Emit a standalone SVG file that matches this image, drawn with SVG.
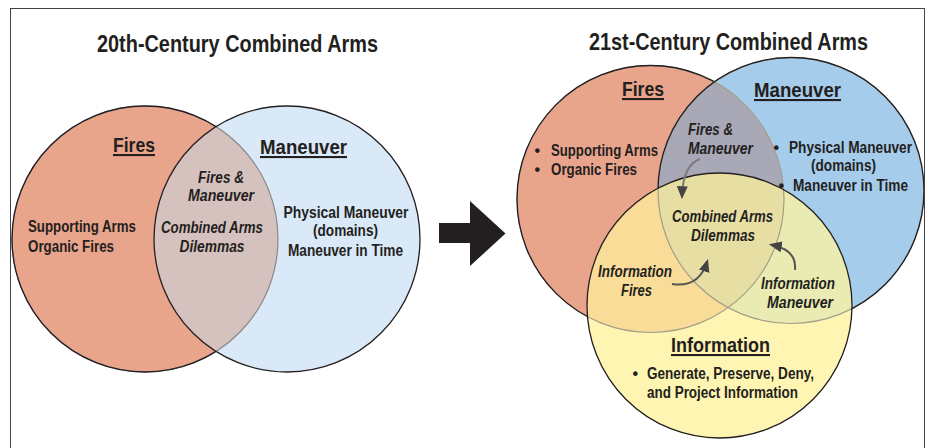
<svg xmlns="http://www.w3.org/2000/svg" width="928" height="448" viewBox="0 0 928 448">
<style>
text{font-family:"Liberation Sans Narrow","Liberation Sans",Arial,sans-serif;font-weight:bold;fill:#231f20}
.t{font-size:24px;text-anchor:middle}
.h{font-size:21px;text-anchor:middle;text-decoration:underline}
.b{font-size:16px}
.i{font-size:16px;font-style:italic;text-anchor:middle}
.m{text-anchor:middle}
.dk{fill:none;stroke:#231f20;stroke-width:1.3}
.gy{fill:none;stroke:#8a8a8a;stroke-width:1.2}
.gy2{fill:none;stroke:#a39e88;stroke-width:1.2}
.conn{fill:none;stroke:#555;stroke-width:2}
</style>
<defs>
<clipPath id="cLF"><circle cx="145" cy="239" r="133"/></clipPath>
<clipPath id="cRF"><circle cx="650.5" cy="199" r="133.5"/></clipPath>
<clipPath id="cRM"><circle cx="791" cy="190.5" r="133"/></clipPath>
<clipPath id="cRFM" clip-path="url(#cRF)"><circle cx="791" cy="190.5" r="133"/></clipPath>
<mask id="mLoutM"><rect width="928" height="448" fill="#fff"/><circle cx="287" cy="239" r="133" fill="#000"/></mask>
<mask id="mRoutI"><rect width="928" height="448" fill="#fff"/><circle cx="719.5" cy="305.5" r="132.5" fill="#000"/></mask>
<mask id="mRoutMI"><rect width="928" height="448" fill="#fff"/><circle cx="719.5" cy="305.5" r="132.5" fill="#000"/><circle cx="791" cy="190.5" r="133" fill="#000"/></mask>
<marker id="ah" viewBox="0 0 12 10" refX="9" refY="5" markerWidth="13" markerHeight="11" markerUnits="userSpaceOnUse" orient="auto"><path d="M0,0 L12,5 L0,10 Z" fill="#444"/></marker>
</defs>

<rect id="frame" x="10.5" y="8.5" width="914" height="460" fill="none" stroke="#444" stroke-width="1"/>

<!-- LEFT VENN -->
<g id="left-venn">
  <g id="left-fires">
    <circle cx="145" cy="239" r="133" fill="#e9a48c"/>
  </g>
  <g id="left-maneuver">
    <circle cx="287" cy="239" r="133" fill="#dae9f7"/>
  </g>
  <g id="left-overlap">
    <circle cx="287" cy="239" r="133" fill="#d5c1be" clip-path="url(#cLF)"/>
  </g>
  <circle class="gy" cx="145" cy="239" r="133"/>
  <circle class="dk" cx="145" cy="239" r="133" mask="url(#mLoutM)"/>
  <circle class="dk" cx="287" cy="239" r="133"/>
  <text class="t" x="237.5" y="52" textLength="281" lengthAdjust="spacingAndGlyphs">20th-Century Combined Arms</text>
  <g id="left-fires-text">
    <text class="h" x="134" y="152" textLength="42" lengthAdjust="spacingAndGlyphs">Fires</text>
    <text class="b" x="28" y="232" textLength="108" lengthAdjust="spacingAndGlyphs">Supporting Arms</text>
    <text class="b" x="28" y="252" textLength="86" lengthAdjust="spacingAndGlyphs">Organic Fires</text>
  </g>
  <g id="left-maneuver-text">
    <text class="h" x="303.5" y="154" textLength="87" lengthAdjust="spacingAndGlyphs">Maneuver</text>
    <text class="b m" x="346" y="218" textLength="125" lengthAdjust="spacingAndGlyphs">Physical Maneuver</text>
    <text class="b m" x="345.5" y="236" textLength="65" lengthAdjust="spacingAndGlyphs">(domains)</text>
    <text class="b m" x="345.5" y="256" textLength="115" lengthAdjust="spacingAndGlyphs">Maneuver in Time</text>
  </g>
  <g id="left-overlap-text">
    <text class="i" x="221" y="183" textLength="46" lengthAdjust="spacingAndGlyphs">Fires &amp;</text>
    <text class="i" x="221" y="201" textLength="66" lengthAdjust="spacingAndGlyphs">Maneuver</text>
    <text class="i" x="212" y="233" textLength="102" lengthAdjust="spacingAndGlyphs">Combined Arms</text>
    <text class="i" x="212" y="252" textLength="65" lengthAdjust="spacingAndGlyphs">Dilemmas</text>
  </g>
</g>

<!-- RIGHT VENN -->
<g id="right-venn">
  <g id="right-fires">
    <circle cx="650.5" cy="199" r="133.5" fill="#e9a48c"/>
  </g>
  <g id="right-maneuver">
    <circle cx="791" cy="190.5" r="133" fill="#a6ccec"/>
  </g>
  <g id="right-fires-maneuver">
    <circle cx="791" cy="190.5" r="133" fill="#a9a8b6" clip-path="url(#cRF)"/>
  </g>
  <g id="right-information">
    <circle cx="719.5" cy="305.5" r="132.5" fill="#fff5b2"/>
  </g>
  <g id="right-information-fires">
    <circle cx="719.5" cy="305.5" r="132.5" fill="#f9dc98" clip-path="url(#cRF)"/>
  </g>
  <g id="right-information-maneuver">
    <circle cx="719.5" cy="305.5" r="132.5" fill="#e9ebb2" clip-path="url(#cRM)"/>
  </g>
  <g id="right-combined">
    <circle cx="719.5" cy="305.5" r="132.5" fill="#e7dea3" clip-path="url(#cRFM)"/>
  </g>
  <circle class="gy2" cx="650.5" cy="199" r="133.5"/>
  <circle class="dk" cx="650.5" cy="199" r="133.5" mask="url(#mRoutMI)"/>
  <circle class="gy2" cx="791" cy="190.5" r="133"/>
  <circle class="dk" cx="791" cy="190.5" r="133" mask="url(#mRoutI)"/>
  <circle class="dk" cx="719.5" cy="305.5" r="132.5"/>

  <text class="t" x="728.5" y="50" textLength="279" lengthAdjust="spacingAndGlyphs">21st-Century Combined Arms</text>
  <g id="right-fires-text">
    <text class="h" x="643" y="96" textLength="42" lengthAdjust="spacingAndGlyphs">Fires</text>
    <text class="b" x="534.5" y="156">•</text>
    <text class="b" x="551" y="156" textLength="107" lengthAdjust="spacingAndGlyphs">Supporting Arms</text>
    <text class="b" x="534.5" y="175">•</text>
    <text class="b" x="551" y="175" textLength="86" lengthAdjust="spacingAndGlyphs">Organic Fires</text>
  </g>
  <g id="right-maneuver-text">
    <text class="h" x="797.5" y="97" textLength="87" lengthAdjust="spacingAndGlyphs">Maneuver</text>
    <text class="b" x="773.5" y="153">•</text>
    <text class="b" x="789" y="153" textLength="123" lengthAdjust="spacingAndGlyphs">Physical Maneuver</text>
    <text class="b m" x="843.5" y="171" textLength="65" lengthAdjust="spacingAndGlyphs">(domains)</text>
    <text class="b" x="778.5" y="191">•</text>
    <text class="b" x="793" y="191" textLength="115" lengthAdjust="spacingAndGlyphs">Maneuver in Time</text>
  </g>
  <g id="right-fires-maneuver-text">
    <text class="i" x="688" y="135" style="text-anchor:start" textLength="45" lengthAdjust="spacingAndGlyphs">Fires &amp;</text>
    <text class="i" x="688" y="154" style="text-anchor:start" textLength="65" lengthAdjust="spacingAndGlyphs">Maneuver</text>
  </g>
  <g id="right-combined-text">
    <text class="i" x="722.5" y="222" textLength="101" lengthAdjust="spacingAndGlyphs">Combined Arms</text>
    <text class="i" x="723" y="241" textLength="64" lengthAdjust="spacingAndGlyphs">Dilemmas</text>
  </g>
  <g id="right-information-fires-text">
    <text class="i" x="635" y="277" textLength="74" lengthAdjust="spacingAndGlyphs">Information</text>
    <text class="i" x="636.5" y="296" textLength="31" lengthAdjust="spacingAndGlyphs">Fires</text>
  </g>
  <g id="right-information-maneuver-text">
    <text class="i" x="798" y="289" textLength="74" lengthAdjust="spacingAndGlyphs">Information</text>
    <text class="i" x="800" y="308" textLength="66" lengthAdjust="spacingAndGlyphs">Maneuver</text>
  </g>
  <g id="right-information-text">
    <text class="h" x="720.5" y="352" textLength="99" lengthAdjust="spacingAndGlyphs">Information</text>
    <text class="b" x="632.5" y="379">•</text>
    <text class="b" x="647" y="379" textLength="167" lengthAdjust="spacingAndGlyphs">Generate, Preserve, Deny,</text>
    <text class="b" x="647" y="398" textLength="151" lengthAdjust="spacingAndGlyphs">and Project Information</text>
  </g>
</g>

<g id="connectors">
  <polygon id="big-arrow" points="439,223 470,223 470,201 505.5,233.5 470,266 470,243 439,243" fill="#231f20"/>
  <path class="conn" style="stroke:#7a7a7a" d="M700,159 Q683,165 682,196" marker-end="url(#ah)"/>
  <path class="conn" d="M672,284 Q699,288 707,262" marker-end="url(#ah)"/>
  <path class="conn" d="M795,270 Q797,250 772,245" marker-end="url(#ah)"/>
</g>
</svg>
